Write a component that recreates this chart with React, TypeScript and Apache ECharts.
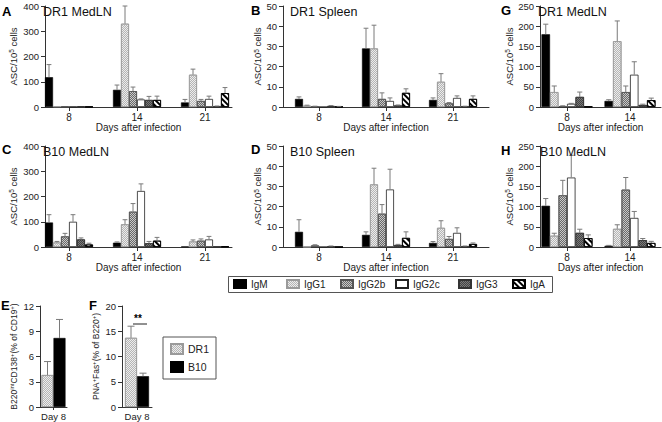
import React, { useEffect, useRef } from 'react';
import * as echarts from 'echarts';

const FONT = '"Liberation Sans", Arial, Helvetica, sans-serif';
const ISOTYPES = ['IgM', 'IgG1', 'IgG2b', 'IgG2c', 'IgG3', 'IgA'];
const DAYS_3 = ['8', '14', '21'];
const DAYS_2 = ['8', '14'];
const STRAINS = ['DR1', 'B10'];
const DAY_LABEL = ['Day 8'];

// rows: IgM, IgG1, IgG2b, IgG2c, IgG3, IgA ; columns: days
const A_MEAN = [[118, 68, 18], [3, 330, 128], [2, 63, 24], [1, 30, 32], [3, 28, 3], [1, 28, 55]];
const A_SEM = [[50, 19, 12], [0, 70, 22], [0, 16, 6], [0, 2, 11], [0, 14, 1], [0, 15, 22]];
const B_MEAN = [[4, 29, 3.5], [0.7, 29, 12.5], [0.3, 4, 1.8], [0, 3, 4.5], [0.5, 0.8, 0.3], [0.2, 7, 4]];
const B_SEM = [[1, 10, 1], [0.2, 11.5, 4], [0.1, 3, 0.4], [0, 1.5, 1], [0.2, 0.2, 0.1], [0.1, 2, 1.5]];
const G_MEAN = [[180, 15], [37, 163], [2, 37], [8, 80], [25, 5], [1, 17]];
const G_SEM = [[25, 3], [15, 50], [1, 15], [1, 32], [12, 2], [0, 5]];
const C_MEAN = [[97, 17, 2], [18, 90, 22], [42, 140, 25], [100, 222, 30], [30, 15, 1], [10, 25, 2]];
const C_SEM = [[31, 3, 0], [4, 18, 6], [12, 32, 7], [28, 28, 12], [6, 7, 0], [5, 13, 0]];
const D_MEAN = [[7.5, 6, 2], [0.2, 31, 9.5], [0.8, 16.5, 4], [0, 28.5, 7], [0.4, 1, 0.4], [0, 4.5, 1.5]];
const D_SEM = [[6, 1.5, 0.7], [0, 8, 3.5], [0.3, 4.5, 1.2], [0, 10, 2.5], [0.1, 0.3, 0.1], [0, 3, 0.5]];
const H_MEAN = [[102, 3], [28, 45], [128, 142], [172, 72], [35, 17], [22, 10]];
const H_SEM = [[18, 1], [6, 10], [37, 30], [55, 16], [9, 4], [8, 4]];
const E_MEAN = [3.8, 8.2];
const E_SEM = [1.6, 2.2];
const F_MEAN = [13.7, 6.1];
const F_SEM = [2.3, 0.6];

const checker = (c: string) => ({
  symbol: 'rect', symbolSize: 1,
  dashArrayX: [[1, 1], [0, 1, 1, 0]], dashArrayY: [1, 0], color: c,
});

const STYLE: Record<string, any> = {
  IgM: { color: '#000', borderColor: '#000', borderWidth: 0.6 },
  IgG1: { color: '#ececec', borderColor: '#9a9a9a', borderWidth: 0.8, decal: checker('#b5b5b5') },
  IgG2b: { color: '#c8c8c8', borderColor: '#555', borderWidth: 0.8, decal: checker('#6a6a6a') },
  IgG2c: { color: '#fff', borderColor: '#222', borderWidth: 0.8 },
  IgG3: { color: '#444', borderColor: '#333', borderWidth: 0.8, decal: checker('#7a7a7a') },
  IgA: {
    color: '#fff', borderColor: '#000', borderWidth: 0.8,
    decal: { symbol: 'rect', symbolSize: 1, dashArrayX: [1, 0], dashArrayY: [1.5, 1.5], rotation: Math.PI / 4, color: '#000' },
  },
};
STYLE.DR1 = STYLE.IgG1;
STYLE.B10 = STYLE.IgM;

const AX = '#333';
const SUP = { sup: { fontSize: 6.5, verticalAlign: 'top', fontFamily: FONT, color: '#222' } };

type Panel = {
  letter: string; title: string; means: number[][]; sems: number[][]; days: string[];
  yMax: number; yStep: number; left: number; top: number; width: number; height: number;
  xMin: number; xMax: number; barW: number; nameGap: number; letterXY: number[]; titleXY: number[];
};

const PANELS: Panel[] = [
  { letter: 'A', title: 'DR1 MedLN', means: A_MEAN, sems: A_SEM, days: DAYS_3, yMax: 400, yStep: 100,
    left: 45, top: 6, width: 187, height: 101, xMin: -0.353, xMax: 2.397, barW: 8, nameGap: 27, letterXY: [2, 5], titleXY: [43, 5] },
  { letter: 'B', title: 'DR1 Spleen', means: B_MEAN, sems: B_SEM, days: DAYS_3, yMax: 50, yStep: 10,
    left: 283, top: 6, width: 206, height: 101, xMin: -0.537, xMax: 2.537, barW: 8, nameGap: 16, letterXY: [251, 4], titleXY: [290, 5] },
  { letter: 'G', title: 'DR1 MedLN', means: G_MEAN, sems: G_SEM, days: DAYS_2, yMax: 250, yStep: 50,
    left: 540, top: 6, width: 121, height: 101, xMin: -0.4286, xMax: 1.492, barW: 8.5, nameGap: 26, letterXY: [501, 4], titleXY: [538, 5] },
  { letter: 'C', title: 'B10 MedLN', means: C_MEAN, sems: C_SEM, days: DAYS_3, yMax: 400, yStep: 100,
    left: 45, top: 146, width: 187, height: 101, xMin: -0.353, xMax: 2.397, barW: 8, nameGap: 27, letterXY: [2, 143], titleXY: [43, 145] },
  { letter: 'D', title: 'B10 Spleen', means: D_MEAN, sems: D_SEM, days: DAYS_3, yMax: 50, yStep: 10,
    left: 283, top: 146, width: 206, height: 101, xMin: -0.537, xMax: 2.537, barW: 8, nameGap: 16, letterXY: [251, 143], titleXY: [290, 145] },
  { letter: 'H', title: 'B10 MedLN', means: H_MEAN, sems: H_SEM, days: DAYS_2, yMax: 250, yStep: 50,
    left: 540, top: 146, width: 121, height: 101, xMin: -0.4286, xMax: 1.492, barW: 8.5, nameGap: 26, letterXY: [501, 144], titleXY: [540, 145] },
];

const ttl = (left: number, top: number, text: string, size: number, bold: boolean) => ({
  text, left, top, padding: 0, itemGap: 0,
  textStyle: { fontSize: size, fontWeight: bold ? 'bold' : 'normal', color: bold ? '#000' : '#111', fontFamily: FONT },
});

function buildOption() {
  const grid: any[] = [];
  const xAxis: any[] = [];
  const yAxis: any[] = [];
  const series: any[] = [];
  const graphic: any[] = [];
  const title: any[] = [];
  const axisLine = { show: true, onZero: false, lineStyle: { color: AX, width: 1 } };
  const tick = { show: true, length: 4, lineStyle: { color: AX, width: 1 } };

  PANELS.forEach((p, i) => {
    grid.push({ left: p.left, top: p.top, width: p.width, height: p.height });
    const pos = p.days.map((_, k) => k);
    xAxis.push({
      type: 'value', gridIndex: i, min: p.xMin, max: p.xMax,
      axisLine, axisTick: { ...tick, customValues: pos },
      axisLabel: { customValues: pos, formatter: (v: number) => p.days[Math.round(v)] ?? '', fontSize: 10, margin: 5, color: '#222', fontFamily: FONT },
      splitLine: { show: false },
      name: 'Days after infection', nameLocation: 'middle', nameGap: 15,
      nameTextStyle: { fontSize: 10, color: '#222', fontFamily: FONT },
    });
    yAxis.push({
      type: 'value', gridIndex: i, min: 0, max: p.yMax, interval: p.yStep,
      axisLine, axisTick: tick,
      axisLabel: { fontSize: 9.5, margin: 6, color: '#222', fontFamily: FONT, showMaxLabel: true },
      splitLine: { show: false },
      name: 'ASC/10{sup|5} cells', nameLocation: 'middle', nameRotate: 90, nameGap: p.nameGap,
      nameTextStyle: { fontSize: 9.5, color: '#222', fontFamily: FONT, rich: SUP },
    });
    ISOTYPES.forEach((iso, k) => {
      series.push({
        type: 'bar', name: iso, xAxisIndex: i, yAxisIndex: i,
        data: p.means[k].map((v, g) => [g, v]),
        barWidth: p.barW, barGap: '0%', itemStyle: STYLE[iso], silent: true,
      });
    });
    const eb: number[][] = [];
    p.means.forEach((row, k) => row.forEach((v, g) => eb.push([g, v, k, p.sems[k][g]])));
    series.push({
      type: 'custom', xAxisIndex: i, yAxisIndex: i, data: eb, silent: true, z: 5,
      encode: { x: 0, y: 1 },
      renderItem: (_params: any, api: any) => {
        const s = api.value(3);
        if (!s) return null;
        const g = api.value(0), m = api.value(1), k = api.value(2);
        const b = api.coord([g, m]);
        const t = api.coord([g, m + s]);
        const cx = b[0] + (k - 2.5) * p.barW;
        const cap = p.barW * 0.3;
        const st = { stroke: '#7a7a7a', lineWidth: 1 };
        return {
          type: 'group', children: [
            { type: 'line', shape: { x1: cx, y1: b[1], x2: cx, y2: t[1] }, style: st },
            { type: 'line', shape: { x1: cx - cap, y1: t[1], x2: cx + cap, y2: t[1] }, style: st },
          ],
        };
      },
    });
    title.push(ttl(p.letterXY[0], p.letterXY[1], p.letter, 13, true));
    title.push(ttl(p.titleXY[0], p.titleXY[1], p.title, 12.5, false));
  });

  // E and F panels
  const small = [
    { letter: 'E', mean: E_MEAN, sem: E_SEM, yMax: 12, yStep: 3, left: 40, width: 27, nameGap: 22,
      name: 'B220{sup|int}CD138{sup|+}(% of CD19{sup|+})', letterX: 1 },
    { letter: 'F', mean: F_MEAN, sem: F_SEM, yMax: 20, yStep: 5, left: 122, width: 30, nameGap: 22,
      name: 'PNA{sup|+}Fas{sup|+}(% of B220{sup|+})', letterX: 89 },
  ];
  small.forEach((p) => {
    const i = grid.length;
    grid.push({ left: p.left, top: 306, width: p.width, height: 101 });
    xAxis.push({
      type: 'category', gridIndex: i, data: DAY_LABEL, boundaryGap: true,
      axisLine: { show: true, lineStyle: { color: AX } }, axisTick: { show: true, alignWithLabel: true, length: 3, lineStyle: { color: AX } },
      axisLabel: { fontSize: 9.5, margin: 4, color: '#222', fontFamily: FONT },
    });
    yAxis.push({
      type: 'value', gridIndex: i, min: 0, max: p.yMax, interval: p.yStep,
      axisLine: { show: true, lineStyle: { color: AX } }, axisTick: tick,
      axisLabel: { fontSize: 9.5, margin: 6, color: '#222', fontFamily: FONT },
      splitLine: { show: false },
      name: p.name, nameLocation: 'middle', nameRotate: 90, nameGap: p.nameGap,
      nameTextStyle: { fontSize: 8.5, color: '#222', fontFamily: FONT, rich: { sup: { fontSize: 6, verticalAlign: 'top', fontFamily: FONT, color: '#222' } } },
    });
    STRAINS.forEach((st, k) => {
      series.push({
        type: 'bar', name: st, xAxisIndex: i, yAxisIndex: i, data: [p.mean[k]],
        barWidth: 12, barGap: '0%', itemStyle: STYLE[st], silent: true,
      });
    });
    series.push({
      type: 'custom', xAxisIndex: i, yAxisIndex: i, silent: true, z: 5,
      data: p.mean.map((v, k) => [0, v, k, p.sem[k]]),
      encode: { x: 0, y: 1 },
      renderItem: (_params: any, api: any) => {
        const m = api.value(1), k = api.value(2), s = api.value(3);
        const b = api.coord([0, m]);
        const t = api.coord([0, m + s]);
        const cx = b[0] + (k - 0.5) * 12;
        const st = { stroke: '#7a7a7a', lineWidth: 1 };
        return {
          type: 'group', children: [
            { type: 'line', shape: { x1: cx, y1: b[1], x2: cx, y2: t[1] }, style: st },
            { type: 'line', shape: { x1: cx - 3.5, y1: t[1], x2: cx + 3.5, y2: t[1] }, style: st },
          ],
        };
      },
    });
    title.push(ttl(p.letterX, 299, p.letter, 13, true));
  });

  // significance annotation in F
  graphic.push({ type: 'line', silent: true, shape: { x1: 133, y1: 324, x2: 147, y2: 324 }, style: { stroke: '#222', lineWidth: 1 } });
  title.push(ttl(134, 313, '**', 10, true));

  // isotype legend: one legend per entry, inside a framed box
  const legendX = [233, 286, 340, 395, 458, 512];
  const legend: any[] = ISOTYPES.map((n, k) => ({
    left: legendX[k], top: 279, orient: 'horizontal', icon: 'rect', itemWidth: 12, itemHeight: 8,
    padding: 0, selectedMode: false, data: [n],
    textStyle: { fontSize: 10, color: '#222', fontFamily: FONT },
  }));
  graphic.push({ type: 'rect', silent: true, shape: { x: 228.5, y: 276.5, width: 324, height: 16 }, style: { fill: 'none', stroke: '#555', lineWidth: 1 } });
  legend.push({
    left: 163, top: 337, orient: 'vertical', icon: 'rect', itemWidth: 12, itemHeight: 10, itemGap: 6,
    padding: [6, 7], borderColor: '#555', borderWidth: 1, selectedMode: false,
    data: STRAINS,
    formatter: (name: string) => `{s|${name}}`,
    textStyle: { fontSize: 10.5, color: '#222', fontFamily: FONT, rich: { s: { width: 20, fontSize: 10.5, fontFamily: FONT, color: '#222' } } },
  });

  return {
    animation: false,
    backgroundColor: '#fff',
    textStyle: { fontFamily: FONT },
    title, grid, xAxis, yAxis, series, graphic, legend,
  };
}

export default function App() {
  const ref = useRef<HTMLDivElement>(null);
  useEffect(() => {
    if (!ref.current) return;
    const chart = echarts.init(ref.current, undefined, { renderer: 'svg' });
    chart.setOption(buildOption() as any);
    return () => chart.dispose();
  }, []);
  return <div ref={ref} style={{ position: 'absolute', left: 0, top: 0, width: 662, height: 422 }} />;
}
